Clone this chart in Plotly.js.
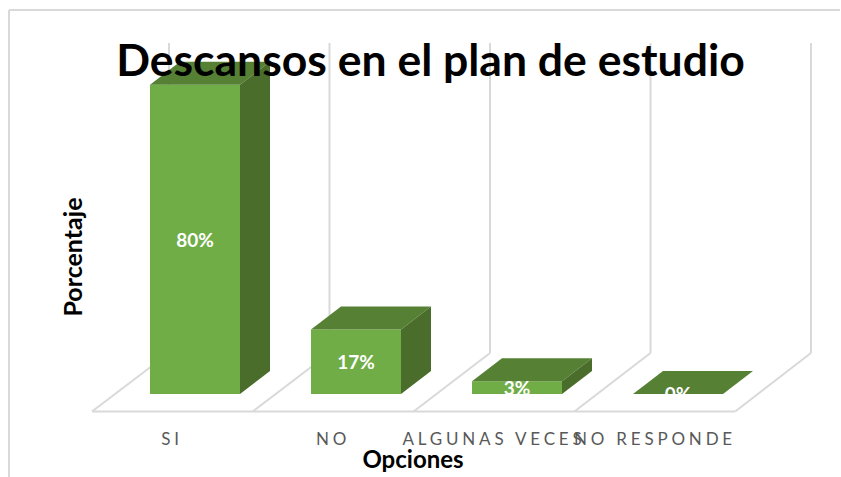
<!DOCTYPE html>
<html><head><meta charset="utf-8">
<script src="https://cdn.plot.ly/plotly-3.0.1.min.js"></script>
<style>
html,body{margin:0;padding:0;background:#fff;overflow:hidden}
#chart .xtick text{letter-spacing:3.8px}
#chart .xtitle{transform:translateY(-4px)}
</style></head><body><div id="chart" style="width:841px;height:477px"></div>
<script>
const categories = ["SI","NO","ALGUNAS VECES","NO RESPONDE"];
const values = [80, 16.67, 3.33, 0];
const labels = ["80%","17%","3%","0%"];
const gridPositions = [0,1,2,3,4];

const W=841,H=477,FONT="Lato, Carlito, sans-serif";
const pxPerCat=161,pxPerPct=3.866,x0px=195,y0px=394;
const domR=826,domT=40,domB=474;
const xr=[(0-x0px)/pxPerCat,(domR-x0px)/pxPerCat];
const yr=[(y0px-domB)/pxPerPct,(y0px-domT)/pxPerPct];
const X=p=>(p-x0px)/pxPerCat, Y=p=>(y0px-p)/pxPerPct;
const barW=90/pxPerCat, half=barW/2;
const idx=categories.map((_,i)=>i);
const dx=30/pxPerCat, dy=23/pxPerPct;
const C={front:"#70ad47",top:"#568135",side:"#4a6d2b",grid:"#d9d9d9"};

const traces=[{type:"bar",x:idx,y:values,width:barW,marker:{color:C.front,line:{width:0}},
  hoverinfo:"skip",showlegend:false}];
idx.forEach(i=>{
  const l=i-half,r=i+half,v=values[i];
  traces.push({type:"scatter",mode:"lines",x:[l,r,r+dx,l+dx,l],y:[v,v,v+dy,v+dy,v],
    fill:"toself",fillcolor:C.top,line:{width:0,color:C.top},hoverinfo:"skip",showlegend:false});
  if(v>0)traces.push({type:"scatter",mode:"lines",x:[r,r+dx,r+dx,r,r],y:[0,dy,v+dy,v,0],
    fill:"toself",fillcolor:C.side,line:{width:0,color:C.side},hoverinfo:"skip",showlegend:false});
});
traces.push({type:"scatter",mode:"text",x:idx,y:values.map(v=>v/2-2.5/pxPerPct),text:labels,yaxis:"y2",
  textposition:"middle center",cliponaxis:true,
  textfont:{family:FONT,size:19,color:"#fff",weight:700},hoverinfo:"skip",showlegend:false});

const gl={color:C.grid,width:2};
const shapes=[];
gridPositions.forEach(k=>{
  const fx=X(92+k*160.8),bx=X(169+k*160.5);
  shapes.push({type:"line",layer:"below",xref:"x",yref:"y",x0:bx,x1:bx,y0:Y(353),y1:Y(43),line:gl});
  shapes.push({type:"line",layer:"below",xref:"x",yref:"y",x0:fx,x1:bx,y0:Y(411.5),y1:Y(353),line:gl});
});
shapes.push({type:"line",layer:"below",xref:"x",yref:"y",x0:X(92),x1:X(735),y0:Y(411.5),y1:Y(411.5),line:gl});
shapes.push({type:"line",layer:"below",xref:"paper",yref:"paper",x0:9/W,x1:840/W,y0:1-10/H,y1:1-10/H,line:gl});
shapes.push({type:"line",layer:"below",xref:"paper",yref:"paper",x0:9/W,x1:9/W,y0:1-10/H,y1:0,line:gl});

const layout={width:W,height:H,margin:{l:0,r:0,t:0,b:0},paper_bgcolor:"#fff",plot_bgcolor:"rgba(0,0,0,0)",
  showlegend:false,barmode:"overlay",shapes,
  title:{text:"Descansos en el plan de estudio",x:430.5/W,xref:"paper",xanchor:"center",y:1-60/H,yref:"paper",yanchor:"middle",
    font:{family:FONT,size:44.5,color:"#000",weight:700}},
  xaxis:{domain:[0,domR/W],range:xr,anchor:"free",position:1-426.5/H,showline:false,zeroline:false,showgrid:false,
    tickmode:"array",tickvals:idx.map(i=>i-23/pxPerCat),ticktext:categories,ticks:"",automargin:false,
    tickfont:{family:FONT,size:17,color:"#595959"},
    title:{text:"Opciones",standoff:1,font:{family:FONT,size:24,color:"#000",weight:700}}},
  yaxis:{domain:[1-domB/H,1-domT/H],range:yr,anchor:"free",position:95/W,showline:false,zeroline:false,showgrid:false,
    showticklabels:false,ticks:"",automargin:false,
    title:{text:"Porcentaje",standoff:4,font:{family:FONT,size:25,color:"#000",weight:700}}},
  yaxis2:{domain:[1-y0px/H,1-domT/H],range:[0,yr[1]],anchor:"x",overlaying:false,visible:false}
};
Plotly.newPlot("chart",traces,layout,{displayModeBar:false,staticPlot:true});
</script></body></html>
